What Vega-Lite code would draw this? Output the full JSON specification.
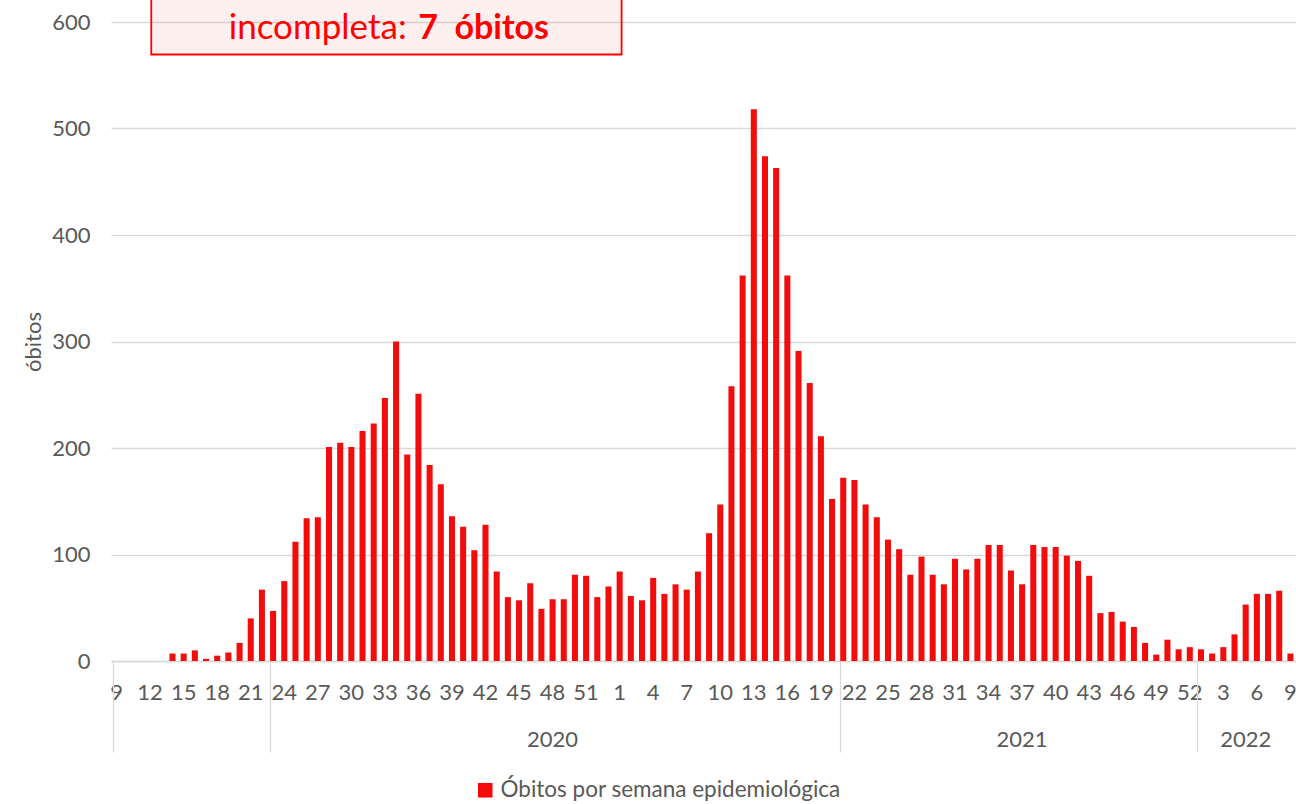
{
  "$schema": "https://vega.github.io/schema/vega-lite/v6.json",
  "width": 1185,
  "height": 639,
  "autosize": {"type": "none"},
  "padding": {"left": 111, "top": 22, "right": 0, "bottom": 143},
  "background": "white",
  "config": {"view": {"stroke": null}, "font": "Lato"},
  "datasets": {
    "weeks": [
      {"semana": "2020-09", "obitos": 0}, {"semana": "2020-10", "obitos": 0}, {"semana": "2020-11", "obitos": 0},
      {"semana": "2020-12", "obitos": 0}, {"semana": "2020-13", "obitos": 0}, {"semana": "2020-14", "obitos": 7},
      {"semana": "2020-15", "obitos": 7}, {"semana": "2020-16", "obitos": 10}, {"semana": "2020-17", "obitos": 2},
      {"semana": "2020-18", "obitos": 5}, {"semana": "2020-19", "obitos": 8}, {"semana": "2020-20", "obitos": 17},
      {"semana": "2020-21", "obitos": 40}, {"semana": "2020-22", "obitos": 67}, {"semana": "2020-23", "obitos": 47},
      {"semana": "2020-24", "obitos": 75}, {"semana": "2020-25", "obitos": 112}, {"semana": "2020-26", "obitos": 134},
      {"semana": "2020-27", "obitos": 135}, {"semana": "2020-28", "obitos": 201}, {"semana": "2020-29", "obitos": 205},
      {"semana": "2020-30", "obitos": 201}, {"semana": "2020-31", "obitos": 216}, {"semana": "2020-32", "obitos": 223},
      {"semana": "2020-33", "obitos": 247}, {"semana": "2020-34", "obitos": 300}, {"semana": "2020-35", "obitos": 194},
      {"semana": "2020-36", "obitos": 251}, {"semana": "2020-37", "obitos": 184}, {"semana": "2020-38", "obitos": 166},
      {"semana": "2020-39", "obitos": 136}, {"semana": "2020-40", "obitos": 126}, {"semana": "2020-41", "obitos": 104},
      {"semana": "2020-42", "obitos": 128}, {"semana": "2020-43", "obitos": 84}, {"semana": "2020-44", "obitos": 60},
      {"semana": "2020-45", "obitos": 57}, {"semana": "2020-46", "obitos": 73}, {"semana": "2020-47", "obitos": 49},
      {"semana": "2020-48", "obitos": 58}, {"semana": "2020-49", "obitos": 58}, {"semana": "2020-50", "obitos": 81},
      {"semana": "2020-51", "obitos": 80}, {"semana": "2020-52", "obitos": 60}, {"semana": "2020-53", "obitos": 70},
      {"semana": "2021-01", "obitos": 84}, {"semana": "2021-02", "obitos": 61}, {"semana": "2021-03", "obitos": 57},
      {"semana": "2021-04", "obitos": 78}, {"semana": "2021-05", "obitos": 63}, {"semana": "2021-06", "obitos": 72},
      {"semana": "2021-07", "obitos": 67}, {"semana": "2021-08", "obitos": 84}, {"semana": "2021-09", "obitos": 120},
      {"semana": "2021-10", "obitos": 147}, {"semana": "2021-11", "obitos": 258}, {"semana": "2021-12", "obitos": 362},
      {"semana": "2021-13", "obitos": 518}, {"semana": "2021-14", "obitos": 474}, {"semana": "2021-15", "obitos": 463},
      {"semana": "2021-16", "obitos": 362}, {"semana": "2021-17", "obitos": 291}, {"semana": "2021-18", "obitos": 261},
      {"semana": "2021-19", "obitos": 211}, {"semana": "2021-20", "obitos": 152}, {"semana": "2021-21", "obitos": 172},
      {"semana": "2021-22", "obitos": 170}, {"semana": "2021-23", "obitos": 147}, {"semana": "2021-24", "obitos": 135},
      {"semana": "2021-25", "obitos": 114}, {"semana": "2021-26", "obitos": 105}, {"semana": "2021-27", "obitos": 81},
      {"semana": "2021-28", "obitos": 98}, {"semana": "2021-29", "obitos": 81}, {"semana": "2021-30", "obitos": 72},
      {"semana": "2021-31", "obitos": 96}, {"semana": "2021-32", "obitos": 86}, {"semana": "2021-33", "obitos": 96},
      {"semana": "2021-34", "obitos": 109}, {"semana": "2021-35", "obitos": 109}, {"semana": "2021-36", "obitos": 85},
      {"semana": "2021-37", "obitos": 72}, {"semana": "2021-38", "obitos": 109}, {"semana": "2021-39", "obitos": 107},
      {"semana": "2021-40", "obitos": 107}, {"semana": "2021-41", "obitos": 99}, {"semana": "2021-42", "obitos": 94},
      {"semana": "2021-43", "obitos": 80}, {"semana": "2021-44", "obitos": 45}, {"semana": "2021-45", "obitos": 46},
      {"semana": "2021-46", "obitos": 37}, {"semana": "2021-47", "obitos": 32}, {"semana": "2021-48", "obitos": 17},
      {"semana": "2021-49", "obitos": 6}, {"semana": "2021-50", "obitos": 20}, {"semana": "2021-51", "obitos": 11},
      {"semana": "2021-52", "obitos": 13}, {"semana": "2022-01", "obitos": 11}, {"semana": "2022-02", "obitos": 7},
      {"semana": "2022-03", "obitos": 13}, {"semana": "2022-04", "obitos": 25}, {"semana": "2022-05", "obitos": 53},
      {"semana": "2022-06", "obitos": 63}, {"semana": "2022-07", "obitos": 63}, {"semana": "2022-08", "obitos": 66},
      {"semana": "2022-09", "obitos": 7}
    ]
  },
  "layer": [
    {
      "data": {"name": "weeks"},
      "mark": {"type": "bar"},
      "encoding": {
        "x": {
          "field": "semana",
          "type": "ordinal",
          "scale": {"paddingInner": 0.46, "paddingOuter": 0.23},
          "axis": {
            "orient": "bottom",
            "title": null,
            "values": ["2020-09","2020-12","2020-15","2020-18","2020-21","2020-24","2020-27","2020-30","2020-33","2020-36","2020-39","2020-42","2020-45","2020-48","2020-51",
                       "2021-01","2021-04","2021-07","2021-10","2021-13","2021-16","2021-19","2021-22","2021-25","2021-28","2021-31","2021-34","2021-37","2021-40","2021-43","2021-46","2021-49","2021-52",
                       "2022-03","2022-06","2022-09"],
            "labelExpr": "'' + toNumber(split(datum.value, '-')[1])",
            "labelAngle": 0,
            "labelFontSize": 22,
            "labelColor": "#595959",
            "labelPadding": 21,
            "labelBaseline": "top",
            "labelOverlap": false,
            "ticks": false,
            "tickSize": 0,
            "domainColor": "#d9d9d9",
            "domainWidth": 1.3,
            "grid": false
          }
        },
        "y": {
          "field": "obitos",
          "type": "quantitative",
          "scale": {"domain": [0, 600], "nice": false},
          "axis": {
            "title": "óbitos",
            "values": [0, 100, 200, 300, 400, 500, 600],
            "grid": true,
            "gridColor": "#d9d9d9",
            "gridWidth": 1.3,
            "domain": false,
            "ticks": false,
            "tickSize": 0,
            "labelPadding": 21,
            "labelFontSize": 22,
            "labelColor": "#595959",
            "titleFontSize": 22,
            "titleColor": "#595959",
            "titleFontWeight": "normal",
            "titlePadding": 6
          }
        },
        "color": {
          "datum": "Óbitos por semana epidemiológica",
          "type": "nominal",
          "scale": {"range": ["#f20c0c"]},
          "legend": {
            "title": null,
            "orient": "none",
            "legendX": 363,
            "legendY": 757,
            "direction": "horizontal",
            "symbolType": "square",
            "symbolSize": 169,
            "symbolStrokeColor": "#ff0000",
            "symbolStrokeWidth": 1.5,
            "labelFontSize": 22.5,
            "labelColor": "#595959",
            "labelOffset": 4,
            "labelLimit": 0,
            "padding": 0
          }
        }
      }
    },
    {
      "data": {"values": [{}]},
      "mark": {"type": "rect", "fill": "#ff0000", "fillOpacity": 0.06, "stroke": "#ff0000", "strokeWidth": 1.8},
      "encoding": {
        "x": {
          "datum": "2020-12",
          "type": "ordinal",
          "bandPosition": 0.69,
          "axis": {
            "orient": "bottom",
            "title": null,
            "values": ["2020-48", "2021-37", "2022-05"],
            "labelExpr": "datum.value == '2020-48' ? '2020' : (datum.value == '2021-37' ? '2021' : '2022')",
            "labelAngle": 0,
            "ticks": false,
            "tickSize": 0,
            "domain": false,
            "grid": false,
            "labelPadding": 68,
            "labelBaseline": "top",
            "labelFontSize": 22,
            "labelColor": "#595959"
          }
        },
        "x2": {"datum": "2021-01", "bandPosition": 0.82},
        "y": {"datum": 569.5, "type": "quantitative", "axis": null},
        "y2": {"datum": 660}
      }
    },
    {
      "data": {"values": [{}]},
      "mark": {"type": "text", "text": "incompleta:", "align": "right", "baseline": "alphabetic", "fontSize": 35, "color": "#ff0000"},
      "encoding": {
        "x": {
          "datum": "2020-35",
          "type": "ordinal",
          "bandPosition": 0.4,
          "axis": {
            "orient": "bottom",
            "title": null,
            "values": ["2020-09", "2020-23", "2021-21", "2022-01"],
            "bandPosition": 0,
            "labels": false,
            "domain": false,
            "ticks": true,
            "tickSize": 91,
            "tickColor": "#d9d9d9",
            "tickWidth": 1.3,
            "grid": false
          }
        },
        "y": {"datum": 584.5, "type": "quantitative", "axis": null}
      }
    },
    {
      "data": {"values": [{}]},
      "mark": {"type": "text", "text": "7\u00a0\u00a0óbitos", "align": "left", "baseline": "alphabetic", "fontSize": 34, "fontWeight": "bold", "color": "#ff0000"},
      "encoding": {
        "x": {"datum": "2020-36", "type": "ordinal", "bandPosition": 0.46, "axis": null},
        "y": {"datum": 584.5, "type": "quantitative", "axis": null}
      }
    }
  ],
  "resolve": {"axis": {"x": "independent", "y": "independent"}}
}
